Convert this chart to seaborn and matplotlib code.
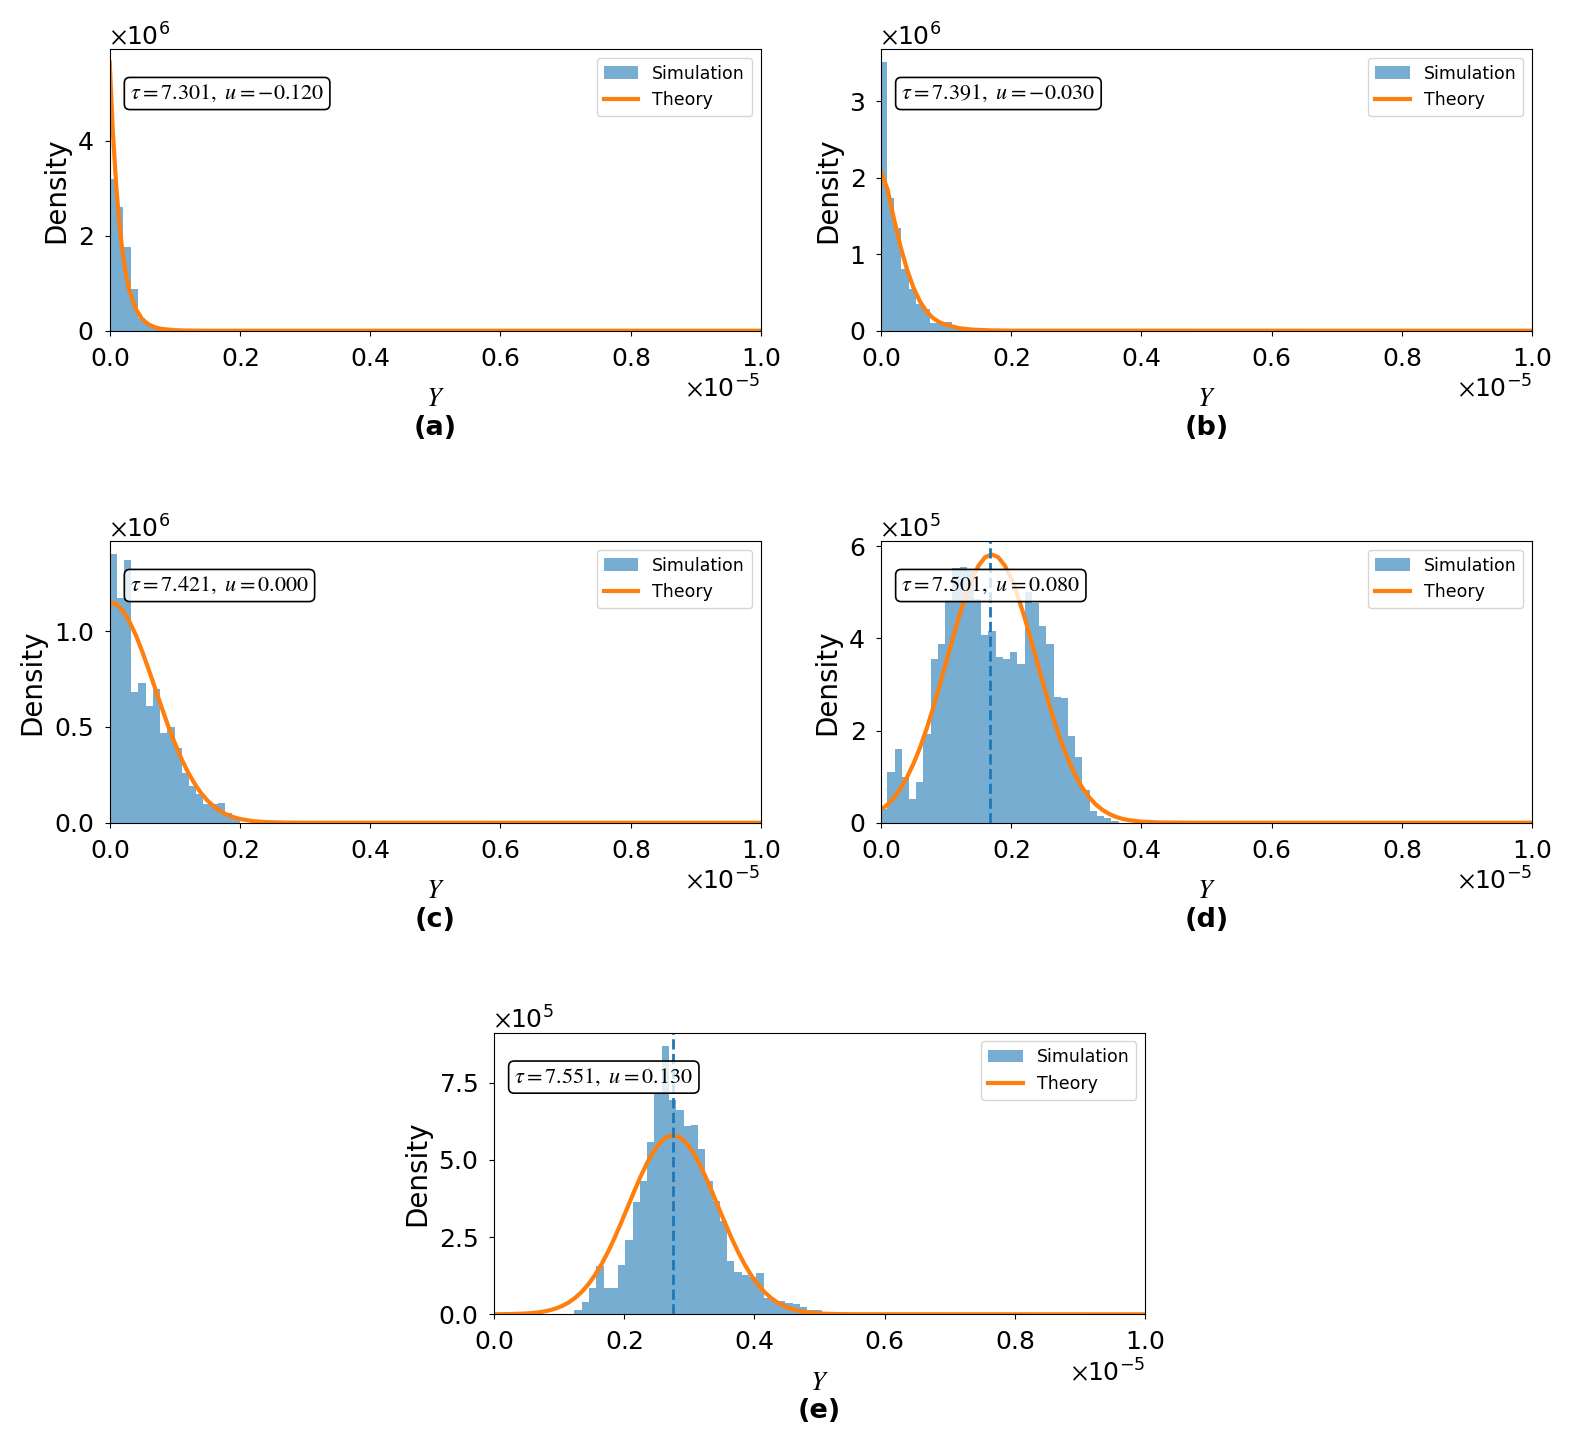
import numpy as np
import pandas as pd
import matplotlib
matplotlib.use('Agg')
import matplotlib.pyplot as plt
import seaborn as sns
from matplotlib.patches import Patch
from matplotlib.lines import Line2D
from matplotlib.ticker import MaxNLocator

plt.rcParams['mathtext.fontset'] = 'stix'
plt.rcParams['axes.formatter.use_mathtext'] = True
plt.rcParams['font.family'] = ['DejaVu Sans']

# x values in units of 1e-5, densities in units of y_scales
tags = ['(a)', '(b)', '(c)', '(d)', '(e)']
tau_vals = [7.301, 7.391, 7.421, 7.501, 7.551]
u_vals = [-0.120, -0.030, 0.000, 0.080, 0.130]
y_scales = [1e6, 1e6, 1e6, 1e5, 1e5]
mean_lines = [None, None, None, 0.168, 0.275]

# histogram bins (first edge, width) and bar heights
bin_start = [-0.0013, -0.0024, -0.0003, -0.0014, 0.1236]
bin_width = [0.0112, 0.0112, 0.0111, 0.0111, 0.01117]
hist_a = [3.20, 2.60, 1.76, 0.88, 0.27, 0.15, 0.05]
hist_b = [3.51, 1.73, 1.35, 0.81, 0.54, 0.35, 0.29, 0.10, 0.11, 0.11, 0.05, 0.02]
hist_c = [1.40, 1.17, 1.37, 0.68, 0.73, 0.61, 0.70, 0.47, 0.50, 0.39, 0.26, 0.19,
          0.15, 0.10, 0.095, 0.105, 0.05, 0.03]
hist_d = [0.29, 1.10, 1.60, 1.00, 0.51, 0.89, 1.92, 3.56, 3.88, 4.83, 5.53, 5.55,
          5.45, 4.85, 4.07, 4.15, 3.60, 3.55, 3.70, 3.45, 5.00, 4.76, 4.26, 3.88,
          2.73, 2.71, 1.88, 1.43, 0.72, 0.25, 0.14, 0.10, 0.03]
hist_e = [0.14, 0.41, 0.84, 1.58, 0.84, 0.84, 1.60, 2.41, 3.63, 4.31, 5.58, 7.18,
          8.69, 6.95, 6.62, 6.09, 6.13, 5.34, 4.31, 3.66, 3.03, 1.73, 1.36, 1.26,
          1.22, 1.33, 0.54, 0.47, 0.43, 0.38, 0.32, 0.25, 0.14, 0.14, 0.09]

# theory curves
theory_x_a = [0, 0.005, 0.01, 0.015, 0.02, 0.025, 0.03, 0.04, 0.05, 0.06, 0.07, 0.08,
              0.10, 0.12, 0.15, 1.0]
theory_y_a = [5.65, 4.15, 3.05, 2.22, 1.62, 1.18, 0.86, 0.46, 0.24, 0.13, 0.07, 0.037,
              0.01, 0.003, 0.0005, 0.0]
theory_x_b = [0, 0.01, 0.02, 0.03, 0.04, 0.05, 0.06, 0.07, 0.08, 0.09, 0.10, 0.12,
              0.14, 0.17, 0.20, 1.0]
theory_y_b = [2.08, 1.85, 1.46, 1.10, 0.80, 0.56, 0.38, 0.25, 0.165, 0.11, 0.075, 0.033,
              0.014, 0.004, 0.001, 0.0]
theory_x_c = [0, 0.01, 0.02, 0.03, 0.04, 0.05, 0.06, 0.07, 0.08, 0.09, 0.10, 0.11,
              0.12, 0.13, 0.14, 0.15, 0.16, 0.17, 0.18, 0.19, 0.20, 0.22, 0.24, 0.27,
              0.30, 1.0]
theory_y_c = [1.153, 1.141, 1.107, 1.052, 0.980, 0.893, 0.798, 0.699, 0.600, 0.503,
              0.416, 0.335, 0.265, 0.206, 0.156, 0.116, 0.085, 0.060, 0.042, 0.029,
              0.0195, 0.0082, 0.0032, 0.0007, 0.0001, 0.0]
theory_x_d = [0, 0.01, 0.02, 0.03, 0.04, 0.05, 0.06, 0.07, 0.08, 0.09, 0.10, 0.11,
              0.12, 0.13, 0.14, 0.15, 0.16, 0.17, 0.18, 0.19, 0.20, 0.21, 0.22, 0.23,
              0.24, 0.25, 0.26, 0.27, 0.28, 0.29, 0.30, 0.31, 0.32, 0.33, 0.34, 0.35,
              0.36, 0.37, 0.38, 0.40, 0.43, 0.47, 1.0]
theory_y_d = [0.28, 0.395, 0.548, 0.743, 0.986, 1.283, 1.633, 2.036, 2.486, 2.972,
              3.479, 3.988, 4.476, 4.920, 5.295, 5.581, 5.759, 5.82, 5.759, 5.581,
              5.295, 4.920, 4.476, 3.988, 3.479, 2.972, 2.486, 2.036, 1.633, 1.283,
              0.986, 0.743, 0.548, 0.395, 0.280, 0.194, 0.131, 0.087, 0.057, 0.0225,
              0.005, 0.0005, 0.0]
theory_x_e = [0, 0.025, 0.045, 0.055, 0.065, 0.075, 0.085, 0.095, 0.105, 0.115, 0.125,
              0.135, 0.145, 0.155, 0.165, 0.175, 0.185, 0.195, 0.205, 0.215, 0.225,
              0.235, 0.245, 0.255, 0.265, 0.275, 0.285, 0.295, 0.305, 0.315, 0.325,
              0.335, 0.345, 0.355, 0.365, 0.375, 0.385, 0.395, 0.405, 0.415, 0.425,
              0.435, 0.445, 0.455, 0.465, 0.475, 0.485, 0.495, 0.505, 0.525, 0.55, 1.0]
theory_y_e = [0.0, 0.008, 0.022, 0.035, 0.055, 0.085, 0.128, 0.189, 0.274, 0.388, 0.539,
              0.732, 0.973, 1.267, 1.616, 2.017, 2.465, 2.950, 3.457, 3.966, 4.454,
              4.898, 5.274, 5.560, 5.739, 5.80, 5.739, 5.560, 5.274, 4.898, 4.454,
              3.966, 3.457, 2.950, 2.465, 2.017, 1.616, 1.267, 0.973, 0.732, 0.539,
              0.388, 0.274, 0.189, 0.128, 0.085, 0.055, 0.035, 0.022, 0.008, 0.002, 0.0]

hists = [hist_a, hist_b, hist_c, hist_d, hist_e]
theory_x = [theory_x_a, theory_x_b, theory_x_c, theory_x_d, theory_x_e]
theory_y = [theory_y_a, theory_y_b, theory_y_c, theory_y_d, theory_y_e]

fig = plt.figure(figsize=(15.69, 14.39), dpi=100)
W, H = 1569, 1439
# axes boxes in pixels: left, bottom (from top)
boxes = [(109.7, 330.7), (881, 330.7), (109.7, 822.7), (881, 822.7), (494, 1314.3)]
axes = [fig.add_axes([l / W, 1 - b / H, 651 / W, 281.7 / H]) for l, b in boxes]

blue = '#1f77b4'
orange = '#ff7f0e'

for i, ax in enumerate(axes):
    sc = y_scales[i]
    heights = np.array(hists[i]) * sc
    edges = (bin_start[i] + bin_width[i] * np.arange(len(heights) + 1)) * 1e-5
    hist_df = pd.DataFrame({'Y': (edges[:-1] + edges[1:]) / 2, 'dens': heights})
    sns.histplot(data=hist_df, x='Y', weights='dens', bins=list(edges), stat='count',
                 color=blue, alpha=0.6, linewidth=0, ax=ax)
    theory_df = pd.DataFrame({'Y': np.array(theory_x[i]) * 1e-5,
                              'dens': np.array(theory_y[i]) * sc})
    sns.lineplot(data=theory_df, x='Y', y='dens', color=orange, lw=3, ax=ax)
    if mean_lines[i] is not None:
        ax.axvline(mean_lines[i] * 1e-5, color=blue, ls='--', lw=2)

    ymax = max(max(hists[i]), max(theory_y[i])) * sc * 1.05
    ax.set_xlim(0, 1e-5)
    ax.set_ylim(0, ymax)
    ax.set_xticks(np.linspace(0, 1e-5, 6))
    ax.yaxis.set_major_locator(MaxNLocator(nbins=4, steps=[1, 2, 2.5, 5, 10]))
    ax.ticklabel_format(axis='both', style='sci', scilimits=(0, 0), useMathText=True)
    ax.tick_params(labelsize=18, pad=8)
    ax.xaxis.get_offset_text().set_fontsize(18)
    ax.yaxis.get_offset_text().set_fontsize(18)
    ax.set_xlabel(r'$Y$', fontsize=19, labelpad=11)
    ax.set_ylabel('Density', fontsize=20, labelpad=5)

    ax.text(0.031, 0.842, rf'$\tau={tau_vals[i]:.3f},\ u={u_vals[i]:.3f}$',
            transform=ax.transAxes, fontsize=16, ha='left', va='center', zorder=5,
            bbox=dict(boxstyle='round,pad=0.25', fc=(1, 1, 1, 0.8), ec='black', lw=1.2))

    handles = [Patch(facecolor=blue, alpha=0.6, label='Simulation'),
               Line2D([0], [0], color=orange, lw=3, label='Theory')]
    ax.legend(handles=handles, loc='upper right', fontsize=12.5)

    ax.text(0.5, -0.345, tags[i], transform=ax.transAxes, ha='center', va='center',
            fontsize=19.5, fontweight='bold')

fig.savefig('out.png', dpi=100)
